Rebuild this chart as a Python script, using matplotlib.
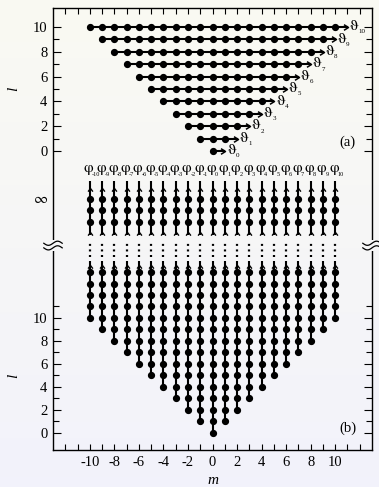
import numpy as np
import matplotlib.pyplot as plt
from matplotlib.path import Path
from matplotlib.patches import Rectangle

plt.rcParams['font.family'] = ['Liberation Serif', 'DejaVu Serif']
plt.rcParams['axes.unicode_minus'] = False

# data ------------------------------------------------------------------------
m_vals = np.arange(-10, 11)          # magnetic index m, columns of panel (b)
l_rows = np.arange(0, 11)            # l rows of panel (a)
l_top = 14                           # last finite l drawn in panel (b)
n_far = 3                            # dots drawn above the break (l -> inf)
y_tick_vals = [0, 2, 4, 6, 8, 10]
y_minor_vals = [1, 3, 5, 7, 9]
x_tick_vals = [-10, -8, -6, -4, -2, 0, 2, 4, 6, 8, 10]

# layout: y is measured in l-units of panel (b) -------------------------------
a_base, a_step = 24.52, 1.078        # panel (a): y = a_base + a_step * l
far_base = 18.35                     # lowest dot above the break
y_break = 16.3
xlim = (-13, 13)
ylim = (-1.48, 36.96)

top_col = np.array([0.980, 0.980, 0.950])
bot_col = np.array([0.950, 0.950, 0.985])
greek = ['STIXGeneral', 'DejaVu Serif']


def chevron(direction):
    if direction == 'right':
        v = [(-1.6, -1.0), (0, 0), (-1.6, 1.0)]
    else:
        v = [(-1.0, -1.3), (0, 0), (1.0, -1.3)]
    return Path(v, [Path.MOVETO, Path.LINETO, Path.LINETO])


def a_y(l):
    return a_base + a_step * np.asarray(l)


fig = plt.figure(figsize=(3.79, 4.87), dpi=100)

# gradient background
bg = fig.add_axes([0, 0, 1, 1], zorder=-1)
grad = np.linspace(0, 1, 256)[:, None, None]
img = top_col * (1 - grad) + bot_col * grad
bg.imshow(np.repeat(img, 2, axis=1), aspect='auto', extent=(0, 1, 0, 1))
bg.axis('off')

ax = fig.add_axes([53 / 379, 1 - 450 / 487, 319 / 379, 442 / 487])
ax.set_facecolor('none')
ax.set_xlim(*xlim)
ax.set_ylim(*ylim)

kw_line = dict(color='black', lw=1.5, solid_capstyle='butt')
kw_dot = dict(marker='o', ms=4.2, color='black', ls='none')

# panel (a) -------------------------------------------------------------------
for l in l_rows:
    ms = np.arange(-l, l + 1)
    y = a_y(l)
    ax.plot([-l, l + 1.05], [y, y], **kw_line)
    ax.plot(ms, np.full(ms.size, y), **kw_dot)
    ax.plot([l + 1.05], [y], marker=chevron('right'), ms=6.5, mfc='none',
            mec='black', mew=1.1, ls='none')
    ax.text(l + 1.15, y + 0.05, 'ϑ', fontsize=11.5, ha='left', va='center',
            family=greek)
    ax.text(l + 1.9, y - 0.42, str(l), fontsize=5, ha='left', va='center')

ax.text(11.0, a_y(0.72), '(a)', fontsize=10.5, ha='center', va='center')

# panel (b) -------------------------------------------------------------------
far_y = far_base + np.arange(n_far)
for m in m_vals:
    ls = np.arange(abs(m), l_top + 1)
    # lower part
    ax.plot([m, m], [abs(m), 14.95], **kw_line)
    ax.plot(np.full(ls.size, m), ls, **kw_dot)
    ax.plot([m], [14.6], marker=chevron('up'), ms=4.5, mfc='none',
            mec='black', mew=1.0, ls='none')
    # dotted gap
    ax.plot([m, m], [15.3, 16.6], color='black', lw=1.6,
            ls=(0, (0.9, 1.6)))
    # upper part
    ax.plot([m, m], [17.2, 21.9], **kw_line)
    ax.plot(np.full(n_far, m), far_y, **kw_dot)
    for ya in (17.5, 21.3):
        ax.plot([m], [ya], marker=chevron('up'), ms=4.5, mfc='none',
                mec='black', mew=1.0, ls='none')
    ax.text(m - 0.1, 23.05, 'φ', fontsize=11, ha='center', va='center',
            family=greek)
    ax.text(m + 0.2, 22.5, str(m), fontsize=4.5, ha='left', va='center')

ax.text(11.0, 0.43, '(b)', fontsize=10.5, ha='center', va='center')

# ticks -----------------------------------------------------------------------
major_y = list(y_tick_vals) + list(a_y(y_tick_vals))
minor_y = list(y_minor_vals) + [11] + list(a_y(y_minor_vals))
ax.set_yticks(major_y)
ax.set_yticklabels([str(v) for v in y_tick_vals] * 2)
ax.set_yticks(minor_y, minor=True)
ax.set_xticks(x_tick_vals)
ax.set_xticklabels([str(v) for v in x_tick_vals])
ax.set_xticks(np.arange(-12, 13), minor=True)
ax.tick_params(which='both', direction='in', top=True, right=True,
               labelsize=10.5, width=0.8, pad=4)
ax.tick_params(axis='y', which='major', length=6)
ax.tick_params(axis='y', which='minor', length=4)
ax.tick_params(axis='x', which='both', length=4.5)
for sp in ax.spines.values():
    sp.set_linewidth(1.0)

ax.text(xlim[0] - 0.95, far_y[-1], '∞', fontsize=11, ha='center',
        va='center', family=greek)

ax.set_xlabel('m', fontsize=11, style='italic', labelpad=4)
fig.text(14 / 379, 1 - 89 / 487, 'l', fontsize=11, style='italic',
         rotation=90, ha='center', va='center')
fig.text(14 / 379, 1 - 376 / 487, 'l', fontsize=11, style='italic',
         rotation=90, ha='center', va='center')

# axis breaks on both vertical spines
frac = (y_break - ylim[0]) / (ylim[1] - ylim[0])
mid_col = top_col * frac + bot_col * (1 - frac)
t = np.linspace(-1, 1, 40)
for xs in xlim:
    ax.add_patch(Rectangle((xs - 0.2, y_break - 0.5), 0.4, 1.0,
                           transform=ax.transData, facecolor=mid_col,
                           edgecolor='none', clip_on=False, zorder=5))
    for dy in (-0.2, 0.2):
        ax.plot(xs + 0.75 * t, y_break + dy + 0.18 * np.sin(np.pi * t),
                color='black', lw=0.9, clip_on=False, zorder=6)

fig.savefig('out.png', dpi=100, facecolor=bot_col)
